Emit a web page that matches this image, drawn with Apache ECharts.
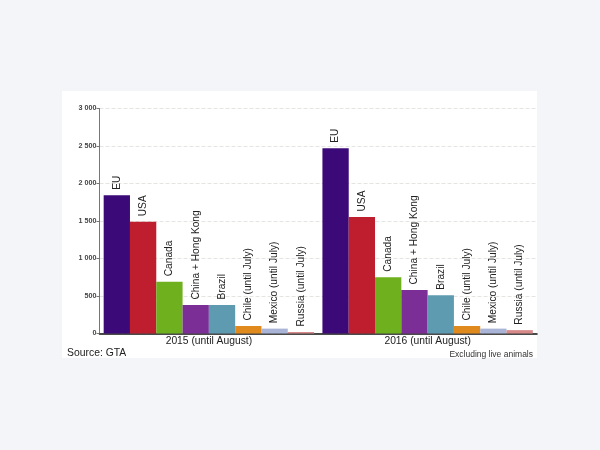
<!DOCTYPE html>
<html><head><meta charset="utf-8">
<style>html,body{margin:0;padding:0;background:#f3f5f9}
#card{position:absolute;left:62px;top:91px;width:475px;height:267px;background:#fff}
#c{position:absolute;left:0;top:0;width:600px;height:450px;filter:blur(0.45px)}</style>
<script src="https://cdn.jsdelivr.net/npm/echarts@6/dist/echarts.min.js"></script>
</head><body><div id="card"></div><div id="c"></div>
<script>
const periods = ['2015 (until August)', '2016 (until August)'];
const names = ['EU','USA','Canada','China + Hong Kong','Brazil','Chile (until July)','Mexico (until July)','Russia (until July)'];
const colors = ['#3b0a78','#be1e2d','#6fb01f','#7b2f96','#5f9bb0','#e08a1e','#a9b4d6','#d88a8a'];
const eu = [1843, 2470];
const usa = [1490, 1553];
const canada = [690, 750];
const china = [380, 580];
const brazil = [380, 510];
const chile = [100, 100];
const mexico = [65, 65];
const russia = [20, 45];
const values = [eu, usa, canada, china, brazil, chile, mexico, russia];
const sourceNote = 'Source: GTA';
const excludeNote = 'Excluding live animals';
const chart = echarts.init(document.getElementById('c'), null, {renderer:'canvas'});
chart.setOption({
  animation:false,
  backgroundColor:'transparent',
  textStyle:{fontFamily:'Liberation Sans'},
  grid:{left:99.5,top:108.5,width:437.5,height:225,containLabel:false},
  xAxis:{type:'category',data:periods,
    axisLine:{lineStyle:{color:'#111',width:1.5}},axisTick:{show:false},
    axisLabel:{color:'#222',fontSize:10.3,margin:3}},
  yAxis:{type:'value',min:0,max:3000,interval:500,
    axisLine:{show:true,lineStyle:{color:'#777',width:1}},
    axisTick:{show:true,length:3,lineStyle:{color:'#777'}},
    axisLabel:{color:'#444',fontSize:7.2,fontWeight:'bold',margin:3,
      formatter:v=>v>=1000?String(v).replace(/(\d)(\d{3})$/,'$1 $2'):String(v)},
    splitLine:{show:true,lineStyle:{color:'#e4e4e0',type:'dashed',width:1}}},
  series:names.map((n,i)=>({
    type:'bar',name:n,data:values[i],barWidth:26.3,barGap:'0%',
    itemStyle:{color:colors[i]},
    label:{show:true,position:'top',rotate:90,align:'left',verticalAlign:'middle',distance:5.5,
      formatter:'{a}',color:'#222',fontSize:10.2}
  })),
  graphic:[
    {type:'text',left:67,top:348,style:{text:sourceNote,fill:'#222',font:'10.4px "Liberation Sans"'}},
    {type:'text',right:67,top:350,style:{text:excludeNote,fill:'#333',font:'8.5px "Liberation Sans"'}}
  ]
});
</script></body></html>
